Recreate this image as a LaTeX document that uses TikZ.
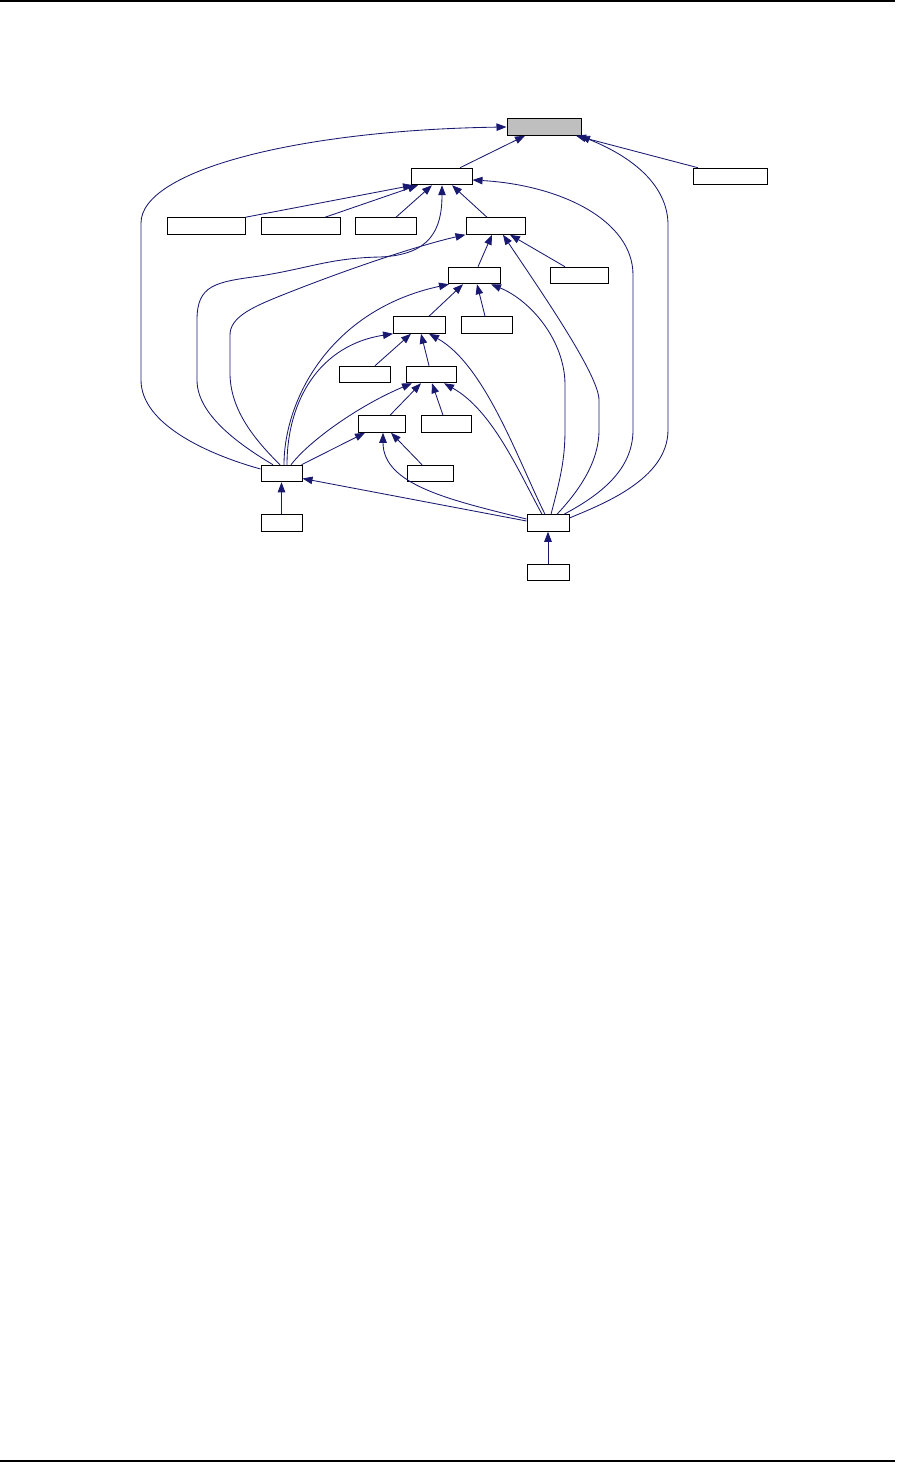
\documentclass[tikz,border=0pt]{standalone}
\usetikzlibrary{arrows.meta}
\definecolor{edgeblue}{HTML}{191970}
\definecolor{rootgray}{HTML}{BFBFBF}
\begin{document}
\begin{tikzpicture}[x=1pt,y=-1pt,
  nbox/.style={draw=black,line width=1pt,fill=white,inner sep=0pt,minimum height=16.5pt},
  rootbox/.style={nbox,fill=rootgray},
  edge/.style={draw=edgeblue,line width=0.85pt,-{Triangle[length=10pt,width=7.5pt]}},
  rulestyle/.style={draw=black,line width=1.3pt}
]
\useasboundingbox (0,0) rectangle (908,1463);
\coordinate (tl) at (0,1);
\coordinate (tr) at (895,1);
\coordinate (bl) at (0,1461);
\coordinate (br) at (895,1461);
\draw[rulestyle] (tl) -- (tr);
\draw[rulestyle] (bl) -- (br);

% nodes
\node[rootbox,minimum width=74pt] (root) at (544,127) {};
\node[nbox,minimum width=74pt] (R) at (730,176.5) {};
\node[nbox,minimum width=61pt] (N1) at (441.5,176.5) {};
\node[nbox,minimum width=78pt] (L1) at (206,226) {};
\node[nbox,minimum width=79pt] (L2) at (300.5,226) {};
\node[nbox,minimum width=61pt] (L3) at (385.5,226) {};
\node[nbox,minimum width=59pt] (N2) at (495.5,226) {};
\node[nbox,minimum width=52pt] (N3) at (474,275.5) {};
\node[nbox,minimum width=58pt] (R2) at (579,275.5) {};
\node[nbox,minimum width=52pt] (N4) at (419,325) {};
\node[nbox,minimum width=51pt] (L5) at (486.5,325) {};
\node[nbox,minimum width=51pt] (L6) at (364.5,374.5) {};
\node[nbox,minimum width=50pt] (N5) at (431,374.5) {};
\node[nbox,minimum width=47pt] (N6) at (381.5,424) {};
\node[nbox,minimum width=50pt] (L7) at (446,424) {};
\node[nbox,minimum width=41pt] (A) at (281.5,473.5) {};
\node[nbox,minimum width=46pt] (L8) at (430,473.5) {};
\node[nbox,minimum width=41pt] (LA) at (281.5,523) {};
\node[nbox,minimum width=42pt] (H) at (548,523) {};
\node[nbox,minimum width=42pt] (LH) at (548,572.5) {};

% edges to root
\draw[edge] ([xshift=18.5pt]N1.north) -- ([xshift=-19pt]root.south);
\draw[edge] ([xshift=-32pt]R.north) -- ([xshift=32pt]root.south);
\draw[edge] ([yshift=4.5pt]A.west) .. controls (210,455) and (141,425) .. (141,380) -- (141,223) .. controls (141,170) and (300,130) .. (root.west);
\draw[edge] ([yshift=5pt]H.east) .. controls (600,505) and (668,480) .. (668,430) -- (668,225) .. controls (668,190) and (640,160) .. ([xshift=36pt]root.south);

% edges from H
\draw[edge] ([xshift=16pt]H.north) .. controls (600,495) and (633,470) .. (633,430) -- (633,275) .. controls (633,220) and (560,185) .. ([yshift=-3.5pt]N1.east);
\draw[edge] ([xshift=9pt]H.north) .. controls (575,495) and (599,465) .. (599,430) -- (599,400) .. controls (599,375) and (540,290) .. ([xshift=7.5pt]N2.south);
\draw[edge] ([xshift=3pt]H.north) .. controls (560,480) and (565,460) .. (565,430) -- (565,385) .. controls (565,340) and (530,300) .. ([xshift=17pt]N3.south);
\draw[edge] ([xshift=-3pt]H.north) .. controls (518,460) and (485,365) .. ([xshift=10pt]N4.south);
\draw[edge] ([xshift=-6pt]H.north) .. controls (518,470) and (492,410) .. ([xshift=13pt]N5.south);
\draw[edge] ([yshift=4pt]H.west) .. controls (450,500) and (383,485) .. ([xshift=1.5pt]N6.south);
\draw[edge] ([yshift=2pt]H.west) -- ([yshift=-5pt]A.east);
\draw[edge] (LH.north) -- (H.south);
\draw[edge] (LA.north) -- (A.south);

% edges from A
\draw[edge] ([xshift=-8.5pt]A.north) .. controls (240,445) and (197,415) .. (197,380) -- (197,320) .. controls (197,285) and (215,282) .. (260,276) .. controls (310,268) and (330,258) .. (380,257) .. controls (430,255) and (442,230) .. ([xshift=0.5pt]N1.south);
\draw[edge] ([xshift=-1.5pt]A.north) .. controls (255,440) and (230,410) .. (230,373) -- (230,335) .. controls (230,318) and (250,308) .. (280,296) .. controls (350,268) and (420,245) .. (N2.south west);
\draw[edge] ([xshift=2.5pt]A.north) .. controls (284,400) and (330,310) .. ([xshift=-25pt]N3.south);
\draw[edge] ([xshift=5.5pt]A.north) .. controls (287,400) and (320,345) .. ([xshift=-26pt]N4.south);
\draw[edge] ([xshift=9.5pt]A.north) .. controls (310,440) and (360,405) .. ([xshift=-19pt]N5.south);
\draw[edge] ([xshift=-1pt]A.north east) -- ([xshift=-16.5pt]N6.south);

% tree edges
\draw[edge] (L1.north east) -- ([xshift=-28.5pt]N1.south);
\draw[edge] ([xshift=24.5pt]L2.north) -- ([xshift=-23.5pt]N1.south);
\draw[edge] ([xshift=10.5pt]L3.north) -- ([xshift=-9.5pt]N1.south);
\draw[edge] ([xshift=-8.5pt]N2.north) -- ([xshift=10.5pt]N1.south);
\draw[edge] ([xshift=4pt]N3.north) -- ([xshift=-3.5pt]N2.south);
\draw[edge] ([xshift=-14pt]R2.north) -- ([xshift=14.5pt]N2.south);
\draw[edge] ([xshift=10pt]N4.north) -- ([xshift=-11pt]N3.south);
\draw[edge] ([xshift=-1.5pt]L5.north) -- ([xshift=3pt]N3.south);
\draw[edge] ([xshift=10.5pt]L6.north) -- ([xshift=-8pt]N4.south);
\draw[edge] ([xshift=-2pt]N5.north) -- ([xshift=2pt]N4.south);
\draw[edge] ([xshift=8.5pt]N6.north) -- ([xshift=-10pt]N5.south);
\draw[edge] ([xshift=-3pt]L7.north) -- ([xshift=1pt]N5.south);
\draw[edge] ([xshift=-8pt]L8.north) -- ([xshift=9.5pt]N6.south);
\end{tikzpicture}
\end{document}
